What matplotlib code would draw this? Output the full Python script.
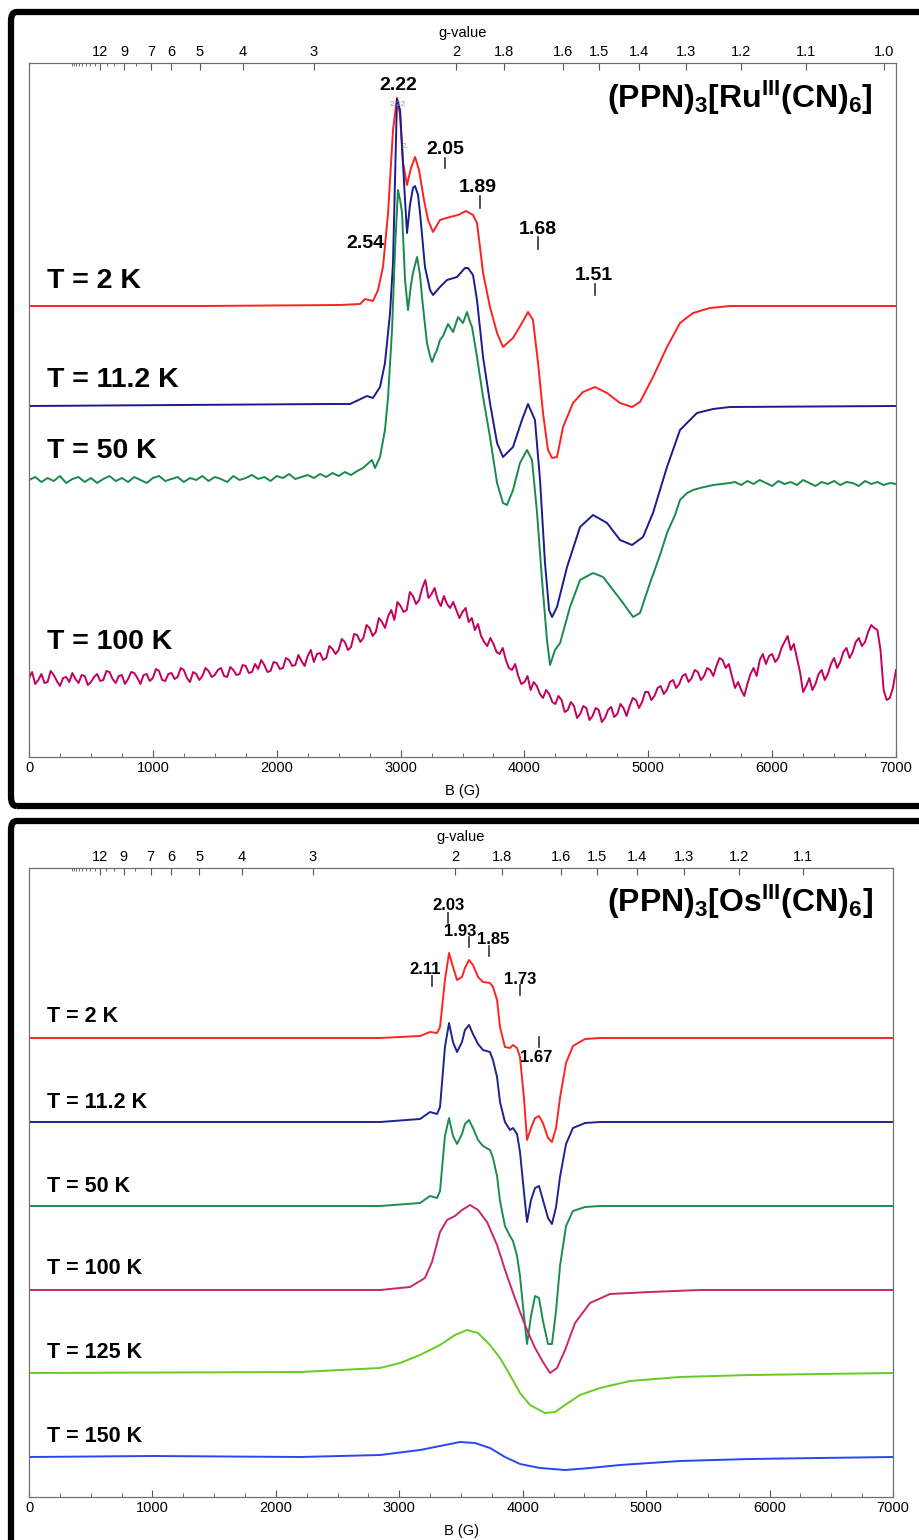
import numpy as np
import matplotlib
matplotlib.use('Agg')
import matplotlib.pyplot as plt
from matplotlib.patches import FancyBboxPatch
from matplotlib.ticker import MultipleLocator

plt.rcParams['font.family'] = ['Liberation Sans Narrow', 'Liberation Sans', 'DejaVu Sans']
plt.rcParams['mathtext.fontset'] = 'custom'
plt.rcParams['mathtext.bf'] = 'Liberation Sans:bold'
plt.rcParams['mathtext.rm'] = 'Liberation Sans'
plt.rcParams['mathtext.it'] = 'Liberation Sans:italic'

G_CONST = 6900.0  # h*nu/mu_B in gauss, B = G_CONST / g

# ---------------- panel 1 : (PPN)3[Ru(CN)6] ----------------
ru_2k_b = [0, 1381, 2511, 2673, 2713, 2777, 2818, 2858, 2899, 2939,
           2971, 2996, 3020, 3052, 3084, 3117, 3149, 3189, 3222, 3262,
           3318, 3399, 3464, 3528, 3585, 3617, 3641, 3666, 3722, 3779,
           3827, 3908, 3980, 4029, 4069, 4110, 4150, 4190, 4223, 4263,
           4312, 4392, 4473, 4570, 4667, 4772, 4869, 4933, 5038, 5151,
           5256, 5361, 5498, 5660, 7000]
ru_2k_i = [0, 0, 1, 2, 7, 5, 16, 39, 93, 176,
           208, 191, 143, 121, 138, 149, 136, 106, 86, 74,
           86, 89, 91, 95, 91, 83, 59, 33, -1, -27,
           -41, -32, -17, -6, -14, -57, -107, -144, -152, -151,
           -121, -97, -86, -81, -87, -97, -101, -96, -71, -41,
           -17, -7, -2, 0, 0]

ru_11k_b = [0, 2430, 2592, 2729, 2777, 2834, 2874, 2915, 2939, 2955,
            2971, 2996, 3012, 3036, 3052, 3076, 3100, 3117, 3141, 3157,
            3197, 3238, 3262, 3318, 3375, 3456, 3520, 3544, 3585, 3617,
            3666, 3722, 3779, 3827, 3908, 3980, 4029, 4085, 4126, 4166,
            4199, 4223, 4263, 4344, 4449, 4554, 4667, 4772, 4869, 4957,
            5038, 5151, 5256, 5393, 5523, 5660, 7000]
ru_11k_i = [0, 2, 2, 10, 8, 19, 43, 93, 143, 226,
            307, 296, 259, 206, 173, 201, 218, 220, 211, 193,
            139, 116, 111, 119, 126, 129, 138, 138, 131, 106,
            49, 3, -37, -51, -41, -14, 2, -14, -74, -157,
            -204, -211, -201, -161, -121, -109, -117, -134, -139, -131,
            -107, -61, -24, -7, -3, -1, 0]

ru_50k_b = list(np.arange(0, 2651, 50)) + [
    2697, 2769, 2794, 2834, 2874, 2899, 2931, 2955, 2979, 2996,
    3012, 3036, 3060, 3084, 3100, 3133, 3157, 3173, 3213, 3238,
    3254, 3278, 3294, 3318, 3343, 3383, 3424, 3464, 3504, 3536,
    3561, 3577, 3617, 3666, 3722, 3779, 3827, 3859, 3908, 3964,
    4021, 4061, 4102, 4142, 4182, 4207, 4247, 4288, 4368, 4449,
    4554, 4635, 4715, 4796, 4877, 4933, 5014, 5095, 5151, 5216,
    5256, 5313, 5361, 5418, 5523, 5660] + list(np.arange(5700, 7001, 50))
ru_50k_i = [0, 3, -2, 2, -1, 4, -3, 1, 3, -2, 2, -3, 1, 4, -1, 2, -2, 3, 0, -3,
            2, 4, -1, 1, 3, -2, 2, 0, 4, -1, 3, 1, -2, 4, 0, 2, 5, 1, 3, -1,
            4, 2, 6, 1, 3, 5, 2, 6, 3, 7, 4, 8, 5, 9,
            12, 20, 12, 23, 50, 83, 150, 230, 290, 280,
            267, 200, 170, 195, 207, 223, 205, 183, 137, 124,
            118, 126, 130, 140, 144, 156, 148, 163, 157, 168,
            158, 153, 123, 83, 43, -3, -23, -25, -10, 17,
            30, 20, -33, -100, -160, -185, -170, -163, -127, -100,
            -93, -97, -110, -123, -137, -133, -103, -75, -53, -35,
            -20, -13, -10, -8, -5, -3,
            -2, -5, -1, -4, 0, -3, -6, -1, -4, -2, -5, 0, -3, -6, -2, -4, -1, -5,
            -2, -3, -6, -1, -4, -2, -5, -3, -4]

ru_100k_b = np.arange(0, 7001, 25)
ru_100k_i = [2, 8, -4, 0, 6, -3, -2, 9, 5, -1, -6, 2, 3, -2, 7, 1, -3, 5, 4, -5,
             -2, 3, 6, -1, 0, 9, 8, 1, -3, 4, 5, -4, 1, 8, 7, 2, -4, 5, 6, -1,
             2, 11, 9, 0, -1, 6, 7, 1, 3, 12, 10, 2, -2, 8, 6, 0, 4, 12, 9, 3,
             5, 10, 12, 4, 3, 13, 10, 5, 6, 15, 14, 7, 8, 16, 11, 20, 15, 8, 9, 18,
             17, 11, 12, 22, 20, 14, 15, 25, 19, 14, 24, 30, 18, 26, 27, 20, 22, 34, 31, 26,
             30, 41, 38, 30, 33, 46, 45, 38, 42, 55, 52, 44, 48, 62, 58, 52, 64, 70, 60, 78,
             74, 68, 70, 88, 84, 76, 80, 92, 100, 82, 86, 92, 80, 74, 84, 76, 72, 78, 70, 62,
             68, 72, 58, 62, 50, 56, 44, 38, 34, 42, 36, 28, 26, 32, 20, 12, 10, 16, 4, -4,
             -2, 4, -10, -2, -6, -14, -18, -10, -14, -22, -24, -16, -20, -32, -30, -22, -26, -38, -34, -26,
             -28, -40, -36, -28, -30, -42, -38, -30, -27, -37, -34, -24, -28, -36, -26, -18, -20, -28, -22, -12,
             -12, -20, -16, -8, -6, -14, -10, -2, 0, -8, -4, 4, 6, -2, 2, 10, 8, 0, 4, 12,
             10, 4, 14, 22, 20, 12, 16, 4, -8, -2, -10, -16, -4, 6, 12, 4, 20, 26, 16, 24,
             26, 18, 22, 32, 38, 44, 30, 36, 22, 8, -12, -6, 2, -10, -4, 6, 10, 0, 6, 16,
             22, 12, 18, 28, 32, 22, 28, 38, 42, 34, 38, 48, 55, 52, 50, 30, -10, -20, -18, -8,
             10]

ru_labels = ['T = 2 K', 'T = 11.2 K', 'T = 50 K', 'T = 100 K']
ru_offsets = [451, 351, 277, 77]
ru_colors = ['#ff2020', '#1c1c8e', '#1a8a4c', '#c4005c']
ru_label_y = [476, 377, 306, 115]

ru_g_text = ['2.22', '2.05', '1.89', '1.68', '1.51', '2.54']
ru_g_pos = [(2979, 672), (3359, 607), (3625, 570), (4110, 528), (4562, 482), (2713, 514)]
ru_g_mark = [None, (3359, 599, 589), (3641, 561, 549), (4110, 520, 508), (4570, 473, 462), None]

# ---------------- panel 2 : (PPN)3[Os(CN)6] ----------------
os_b = [0, 2844, 3168, 3249, 3306, 3330, 3370, 3403, 3435, 3468,
        3508, 3532, 3565, 3597, 3638, 3678, 3735, 3759, 3792, 3816,
        3856, 3897, 3921, 3954, 3978, 4010, 4035, 4067, 4100, 4132,
        4164, 4205, 4237, 4270, 4302, 4351, 4407, 4505, 4626, 7000]
os_2k_i = [0, 0, 2, 6, 5, 11, 58, 85, 71, 58,
           61, 70, 78, 73, 61, 56, 55, 51, 38, 11,
           -9, -10, -7, -10, -19, -60, -102, -90, -80, -78,
           -85, -100, -104, -90, -60, -25, -8, -1, 0, 0]
os_11k_i = [0, 0, 3, 10, 8, 15, 75, 99, 80, 70,
            80, 92, 97, 88, 78, 72, 70, 62, 45, 20,
            0, -8, -6, -12, -30, -70, -100, -78, -66, -64,
            -78, -96, -102, -85, -55, -22, -6, -1, 0, 0]
os_50k_i = [0, 0, 3, 10, 8, 15, 70, 88, 70, 62,
            72, 82, 86, 78, 66, 60, 56, 48, 30, 5,
            -20, -30, -35, -50, -70, -110, -138, -110, -90, -92,
            -115, -138, -138, -105, -60, -20, -5, -1, 0, 0]
os_100k_b = [0, 2844, 3087, 3208, 3265, 3330, 3387, 3451, 3508, 3573,
             3638, 3711, 3792, 3857, 3913, 3978, 4035, 4100, 4164, 4221,
             4278, 4343, 4424, 4545, 4707, 5031, 5436, 7000]
os_100k_i = [0, 0, 3, 12, 28, 58, 70, 74, 80, 85,
             80, 68, 45, 20, 0, -22, -40, -58, -72, -83,
             -78, -60, -33, -13, -4, -2, 0, 0]
os_125k_b = [0, 2196, 2844, 3006, 3168, 3330, 3451, 3549, 3638, 3735,
             3816, 3897, 3978, 4059, 4181, 4262, 4343, 4464, 4626, 4869,
             5274, 5841, 7000]
os_125k_i = [0, 1, 5, 10, 18, 28, 38, 43, 40, 28,
             15, -2, -20, -32, -40, -39, -32, -22, -15, -8,
             -4, -2, 0]
os_150k_b = [0, 1000, 2196, 2844, 3168, 3330, 3492, 3613, 3735, 3856,
             3978, 4140, 4343, 4545, 4788, 5274, 5841, 6400, 7000]
os_150k_i = [0, 1, 0, 2, 7, 11, 15, 14, 9, 0,
             -7, -11, -13, -11, -8, -4, -2, -1, 0]

os_labels = ['T = 2 K', 'T = 11.2 K', 'T = 50 K', 'T = 100 K', 'T = 125 K', 'T = 150 K']
os_offsets = [459, 375, 291, 207, 124, 40]
os_colors = ['#ff2424', '#22228e', '#1e8c50', '#c8266e', '#66cc22', '#2a46f0']
os_label_y = [480, 395, 311, 229, 145, 61]

os_g_text = ['2.03', '1.93', '1.85', '2.11', '1.73', '1.67']
os_g_pos = [(3395, 591), (3492, 565), (3759, 557), (3208, 528), (3978, 518), (4108, 440)]
os_g_mark = [(3395, 584, 574), (3565, 560, 550), (3727, 551, 541),
             (3265, 521, 511), (3978, 512, 502), (4132, 460, 450)]

ru_top_g = [12, 9, 7, 6, 5, 4, 3, 2, 1.8, 1.6, 1.5, 1.4, 1.3, 1.2, 1.1, 1.0]
ru_top_lbl = ['12', '9', '7', '6', '5', '4', '3', '2', '1.8', '1.6', '1.5', '1.4',
              '1.3', '1.2', '1.1', '1.0']
os_top_g = ru_top_g[:-1]
os_top_lbl = ru_top_lbl[:-1]
top_minor_g = [20, 19, 18, 17, 16, 15, 14, 13, 11, 10, 8]

W, H = 919, 1540
fig = plt.figure(figsize=(W / 100, H / 100), dpi=100)

NARROW = ['Liberation Sans Narrow', 'Liberation Sans', 'DejaVu Sans']
BOLD = ['Liberation Sans', 'DejaVu Sans']
TICK_FS = 10.5


def make_axes(box, ymax, top_g, top_lbl):
    ax = fig.add_axes(box)
    ax.set_xlim(0, 7000)
    ax.set_ylim(0, ymax)
    ax.set_yticks([])
    for s in ax.spines.values():
        s.set_color('#707070')
        s.set_linewidth(0.9)
    ax.xaxis.set_major_locator(MultipleLocator(1000))
    ax.xaxis.set_minor_locator(MultipleLocator(250))
    ax.tick_params(axis='x', which='both', direction='in', color='#555555',
                   labelsize=TICK_FS, pad=3)
    ax.tick_params(axis='x', which='major', length=5)
    ax.tick_params(axis='x', which='minor', length=3)
    for t in ax.get_xticklabels():
        t.set_family(NARROW)
    ax.set_xlabel('B (G)', fontsize=TICK_FS, family=NARROW, labelpad=6)

    top = ax.twiny()
    top.set_xlim(0, 7000)
    top.set_xticks([G_CONST / g for g in top_g])
    top.set_xticklabels(top_lbl, family=NARROW)
    top.set_xticks([G_CONST / g for g in top_minor_g], minor=True)
    top.tick_params(axis='x', which='both', direction='in', color='#555555',
                    labelsize=TICK_FS, pad=3)
    top.tick_params(axis='x', which='major', length=5)
    top.tick_params(axis='x', which='minor', length=2)
    top.set_xlabel('g-value', fontsize=TICK_FS, family=NARROW, labelpad=6)
    for s in top.spines.values():
        s.set_visible(False)
    return ax


ax1 = make_axes([29 / W, 1 - 757 / H, 867 / W, 694 / H], 694, ru_top_g, ru_top_lbl)
ru_b = [ru_2k_b, ru_11k_b, ru_50k_b, ru_100k_b]
ru_i = [ru_2k_i, ru_11k_i, ru_50k_i, ru_100k_i]
for b, i, off, c in zip(ru_b, ru_i, ru_offsets, ru_colors):
    ax1.plot(b, np.array(i) + off, color=c, lw=1.4)
for lbl, y in zip(ru_labels, ru_label_y):
    ax1.text(145, y, lbl, fontsize=20.5, fontweight='bold', family=BOLD, va='center')
for t, (x, y), m in zip(ru_g_text, ru_g_pos, ru_g_mark):
    ax1.text(x, y, t, fontsize=14, fontweight='bold', family=BOLD, ha='center', va='center')
    if m is not None:
        ax1.plot([m[0], m[0]], [m[1], m[2]], color='#333333', lw=1.2)
ax1.text(2979, 653, '2.22', fontsize=6, color='#999999', ha='center', va='center', family=BOLD)
ax1.text(3035, 611, '2.', fontsize=6, color='#999999', ha='center', va='center', family=BOLD)
ax1.text(6815, 659,
         r'$\mathbf{(PPN)}_\mathbf{3}\mathbf{[Ru}^\mathbf{III}\mathbf{(CN)}_\mathbf{6}\mathbf{]}$',
         fontsize=23, ha='right', va='center')

ax2 = make_axes([29 / W, 1 - 1497 / H, 864 / W, 629 / H], 629, os_top_g, os_top_lbl)
os_bs = [os_b, os_b, os_b, os_100k_b, os_125k_b, os_150k_b]
os_is = [os_2k_i, os_11k_i, os_50k_i, os_100k_i, os_125k_i, os_150k_i]
for b, i, off, c in zip(os_bs, os_is, os_offsets, os_colors):
    ax2.plot(b, np.array(i) + off, color=c, lw=1.4)
for lbl, y in zip(os_labels, os_label_y):
    ax2.text(145, y, lbl, fontsize=15.5, fontweight='bold', family=BOLD, va='center')
for t, (x, y), m in zip(os_g_text, os_g_pos, os_g_mark):
    ax2.text(x, y, t, fontsize=12, fontweight='bold', family=BOLD, ha='center', va='center')
    ax2.plot([m[0], m[0]], [m[1], m[2]], color='#333333', lw=1.2)
ax2.text(6838, 595,
         r'$\mathbf{(PPN)}_\mathbf{3}\mathbf{[Os}^\mathbf{III}\mathbf{(CN)}_\mathbf{6}\mathbf{]}$',
         fontsize=23, ha='right', va='center')

# black rounded frames around both panels
for (x0, y0, x1, y1) in [(11, 12, 930, 806), (11, 821, 930, 1550)]:
    fig.patches.append(FancyBboxPatch((x0 / W, 1 - y1 / H), (x1 - x0) / W, (y1 - y0) / H,
                                      boxstyle='round,pad=0,rounding_size=0.006',
                                      transform=fig.transFigure, fill=False,
                                      edgecolor='black', lw=4.5))

fig.savefig('out.png', dpi=100)
